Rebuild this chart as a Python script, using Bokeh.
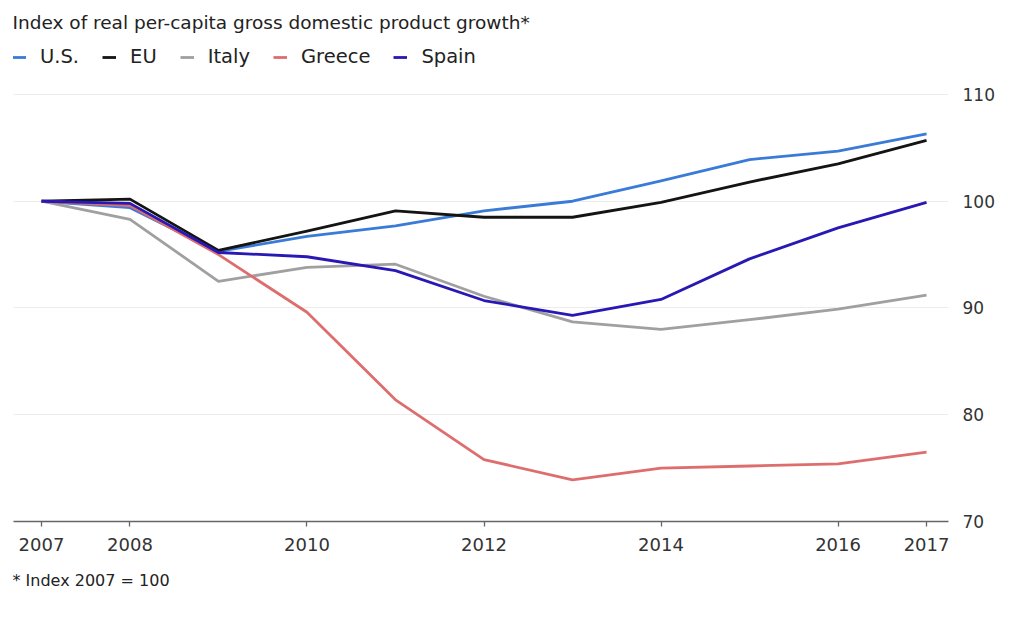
from bokeh.plotting import figure
from bokeh.models import Range1d, FixedTicker, Legend, LegendItem, Title
from bokeh.embed import file_html
from bokeh.resources import INLINE

years = [2007, 2008, 2009, 2010, 2011, 2012, 2013, 2014, 2015, 2016, 2017]
us = [100, 99.4, 95.3, 96.7, 97.7, 99.1, 100.0, 101.9, 103.9, 104.7, 106.3]
eu = [100, 100.2, 95.4, 97.2, 99.1, 98.5, 98.5, 99.9, 101.8, 103.5, 105.7]
italy = [100, 98.3, 92.5, 93.8, 94.1, 91.1, 88.7, 88.0, 88.9, 89.9, 91.2]
greece = [100, 99.6, 95.0, 89.6, 81.4, 75.8, 73.9, 75.0, 75.2, 75.4, 76.5]
spain = [100, 99.8, 95.2, 94.8, 93.5, 90.7, 89.3, 90.8, 94.6, 97.5, 99.9]

series_names = ["U.S.", "EU", "Italy", "Greece", "Spain"]
series_values = [us, eu, italy, greece, spain]
series_colors = ["#3a7bd8", "#141414", "#a0a0a0", "#de6e6e", "#2818b4"]

x_ticks = [2007, 2008, 2010, 2012, 2014, 2016, 2017]
y_ticks = [70, 80, 90, 100, 110]

title_text = "Index of real per-capita gross domestic product growth*"
note_text = "* Index 2007 = 100"

FONT = "DejaVu Sans"

p = figure(
    width=997, height=611,
    x_range=Range1d(2006.684, 2017.248),
    y_range=Range1d(70, 115.15),
    y_axis_location="right",
    output_backend="svg", toolbar_location=None,
    min_border_left=13, min_border_right=48, min_border_top=39, min_border_bottom=90,
    title=title_text,
)
p.outline_line_color = None
p.background_fill_color = "white"
p.border_fill_color = "white"

p.title.text_font = FONT
p.title.text_font_size = "18.5px"
p.title.text_font_style = "normal"
p.title.text_color = "#222222"
p.title.offset = -1
p.title.standoff = 9
p.title.vertical_align = "top"

renderers = []
for name, vals, col in zip(series_names, series_values, series_colors):
    r = p.line(years, vals, line_color=col, line_width=2.8, line_join="round")
    renderers.append((name, r))

# x axis
xa = p.xaxis[0]
xa.ticker = FixedTicker(ticks=x_ticks)
xa.axis_line_color = "#666666"
xa.axis_line_width = 1.6
xa.major_tick_line_color = "#666666"
xa.major_tick_line_width = 1.3
xa.major_tick_out = 5
xa.major_tick_in = 0
xa.minor_tick_line_color = None
xa.major_label_text_font = FONT
xa.major_label_text_font_size = "18px"
xa.major_label_text_color = "#333333"
xa.major_label_standoff = 11

# y axis (right)
ya = p.yaxis[0]
ya.ticker = FixedTicker(ticks=y_ticks)
ya.axis_line_color = None
ya.major_tick_line_color = None
ya.minor_tick_line_color = None
ya.major_label_text_font = FONT
ya.major_label_text_font_size = "17px"
ya.major_label_text_color = "#333333"
ya.major_label_standoff = 8

p.xgrid.grid_line_color = None
p.ygrid.ticker = FixedTicker(ticks=y_ticks)
p.ygrid.grid_line_color = "#ececec"
p.ygrid.grid_line_width = 1

legend = Legend(
    items=[LegendItem(label=n, renderers=[r]) for n, r in renderers],
    orientation="horizontal",
    location=(-1, 453),
    border_line_color=None,
    background_fill_alpha=0,
    padding=0, margin=0,
    spacing=23, glyph_width=14, glyph_height=18, label_standoff=14,
    label_text_font=FONT, label_text_font_size="19.5px", label_text_color="#222222",
)
p.add_layout(legend, "center")

note = Title(text=note_text, align="left", vertical_align="top", text_font=FONT,
             text_font_size="16px", text_font_style="normal", text_color="#222222",
             offset=-1, standoff=35)
p.add_layout(note, "below")

open("out.html", "w").write(file_html(p, INLINE))
